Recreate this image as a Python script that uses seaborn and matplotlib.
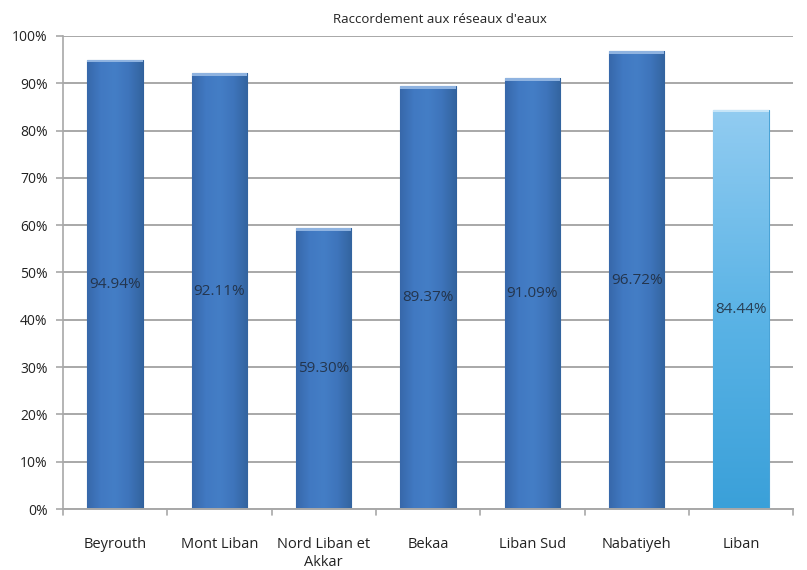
import numpy as np
import pandas as pd
import matplotlib
matplotlib.use("Agg")
import matplotlib.pyplot as plt
import seaborn as sns
from matplotlib.colors import LinearSegmentedColormap

# Share of households connected to the water network, by region
regions = ["Beyrouth", "Mont Liban", "Nord Liban et\nAkkar", "Bekaa",
           "Liban Sud", "Nabatiyeh", "Liban"]
connection_pct = [94.94, 92.11, 59.30, 89.37, 91.09, 96.72, 84.44]
value_labels = ["94.94%", "92.11%", "59.30%", "89.37%", "91.09%", "96.72%", "84.44%"]
y_ticks = [0, 10, 20, 30, 40, 50, 60, 70, 80, 90, 100]

df = pd.DataFrame({"region": regions, "pct": connection_pct})

sns.set_theme(style="white")
plt.rcParams["font.family"] = ["Open Sans", "DejaVu Sans"]

fig = plt.figure(figsize=(8.07, 5.70), dpi=100)
ax = fig.add_axes([0.078, 0.107, 0.905, 0.830])

palette = ["#3f76be"] * 6 + ["#62b6e6"]
sns.barplot(data=df, x="region", y="pct", hue="region", palette=palette,
            width=0.53, legend=False, ax=ax, zorder=2)

# Soft horizontal shading across each bar, plus a thin light cap on top
dark_cmap = LinearSegmentedColormap.from_list(
    "d", ["#3768aa", "#4179c2", "#447ec6", "#3e74bb", "#33649f"])
light_cmap = LinearSegmentedColormap.from_list("l", ["#3aa0d9", "#5cb4e6", "#92ccf1"])
for i, patch in enumerate(ax.patches):
    x0, y0 = patch.get_x(), patch.get_y()
    w, h = patch.get_width(), patch.get_height()
    if i < 6:
        grad = np.linspace(0, 1, 256)[None, :]
        cmap = dark_cmap
    else:
        grad = np.linspace(0, 1, 256)[:, None]
        cmap = light_cmap
    im = ax.imshow(grad, extent=[x0, x0 + w, y0, y0 + h], aspect="auto",
                   cmap=cmap, origin="lower", zorder=2.5)
    im.set_clip_path(patch)
    patch.set_edgecolor("#30609c" if i < 6 else "#4aa3d6")
    patch.set_linewidth(0.8)
    cap = plt.Rectangle((x0, y0 + h - 0.55), w, 0.55,
                        color="#8fb3e0" if i < 6 else "#c6e5f8", zorder=3, lw=0)
    ax.add_patch(cap)

# Value labels at mid-height of each bar
for i, (v, lab) in enumerate(zip(connection_pct, value_labels)):
    ax.text(i, v / 2, lab, ha="center", va="center", fontsize=11,
            color="#1f2a3a", alpha=0.85, zorder=4)

ax.set_ylim(0, 100)
ax.set_xlim(-0.5, len(regions) - 0.5)
ax.set_yticks(y_ticks)
ax.set_yticklabels([f"{t}%" for t in y_ticks], fontsize=10, color="#222222")
ax.yaxis.grid(True, color="#a8a8a8", linewidth=1.4, zorder=0)
ax.set_axisbelow(True)

ax.set_xticks(range(len(regions)))
ax.set_xticklabels(regions, fontsize=10.5, color="#222222", linespacing=1.3)
ax.tick_params(axis="x", length=0, pad=20)
ax.tick_params(axis="y", length=5, color="#a8a8a8", width=1.2, left=True, pad=6)

# Category separators under the baseline
for b in np.arange(-0.5, len(regions), 1.0):
    ax.plot([b, b], [0, -1.2], color="#a8a8a8", lw=1.2, clip_on=False, zorder=1)

for s in ["top", "right"]:
    ax.spines[s].set_visible(False)
ax.spines["left"].set_color("#a8a8a8")
ax.spines["left"].set_linewidth(1.2)
ax.spines["bottom"].set_color("#a8a8a8")
ax.spines["bottom"].set_linewidth(1.4)
ax.set_xlabel("")
ax.set_ylabel("")

fig.text(0.545, 0.966, "Raccordement aux réseaux d'eaux", ha="center", va="center",
         fontsize=9.5, color="#222222")

fig.savefig("out.png", dpi=100, facecolor="white")
